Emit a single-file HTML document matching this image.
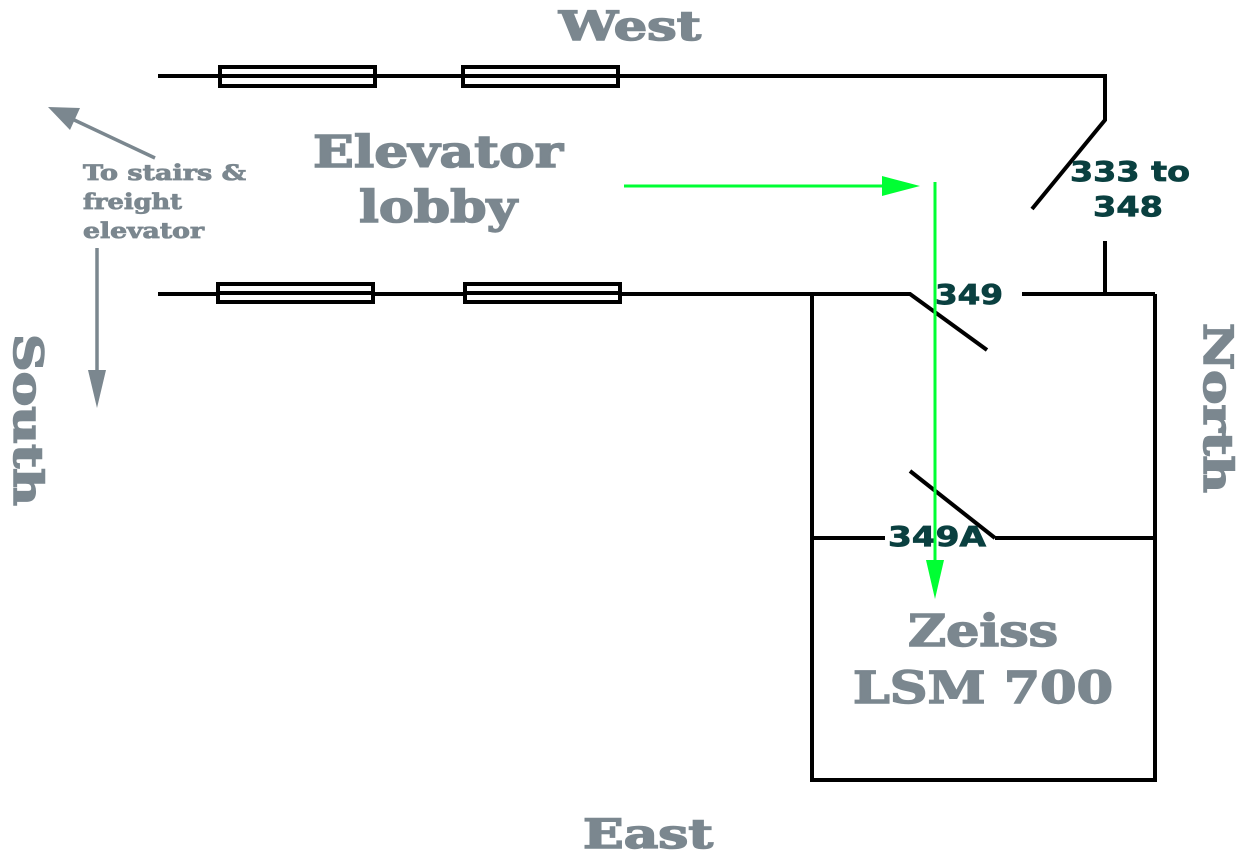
<!DOCTYPE html>
<html><head><meta charset="utf-8"><style>html,body{margin:0;padding:0;background:#fff}svg{display:block}</style></head>
<body>
<svg width="1248" height="862" viewBox="0 0 1248 862" xmlns="http://www.w3.org/2000/svg">
<g stroke="#000" stroke-width="4" fill="none">
<polyline points="158,76 1105,76 1105,120 1032,209"/>
<rect x="220" y="67" width="155" height="19" fill="#fff"/>
<rect x="463" y="67" width="155" height="19" fill="#fff"/>
<line x1="220" y1="76" x2="375" y2="76"/>
<line x1="463" y1="76" x2="618" y2="76"/>
<polyline points="158,294 910,294 987,350"/>
<rect x="218" y="284" width="155" height="18" fill="#fff"/>
<rect x="465" y="284" width="155" height="18" fill="#fff"/>
<line x1="218" y1="293" x2="373" y2="293"/>
<line x1="465" y1="293" x2="620" y2="293"/>
<line x1="1022" y1="294" x2="1155" y2="294"/>
<line x1="1105" y1="241" x2="1105" y2="294"/>
<polyline points="812,294 812,780 1155,780 1155,294"/>
<line x1="812" y1="538" x2="885" y2="538"/>
<line x1="995" y1="538" x2="1155" y2="538"/>
<line x1="910" y1="471" x2="995" y2="538"/>
</g>
<g fill="#0a4040" stroke="#0a4040" stroke-width="0.8" font-family="'DejaVu Sans','Liberation Sans',sans-serif" font-weight="bold" font-size="28">
<text x="1070" y="181" textLength="120" lengthAdjust="spacingAndGlyphs">333 to</text>
<text x="1093" y="216" textLength="70" lengthAdjust="spacingAndGlyphs">348</text>
<text x="935" y="304" textLength="68" lengthAdjust="spacingAndGlyphs">349</text>
<text x="888" y="546" textLength="98" lengthAdjust="spacingAndGlyphs">349A</text>
</g>
<g stroke="#00ff33" stroke-width="3" fill="#00ff33">
<line x1="624" y1="186" x2="885" y2="186"/>
<polygon points="882,176 920,186 882,196" stroke="none"/>
<line x1="935" y1="182" x2="935" y2="565"/>
<polygon points="926,560 944,560 935,599" stroke="none"/>
</g>
<g stroke="#7b878f" stroke-width="3.5" fill="#7b878f">
<line x1="155" y1="158" x2="70" y2="118"/>
<polygon points="48,107 80,108 70,130" stroke="none"/>
<line x1="97" y1="248" x2="97" y2="375"/>
<polygon points="88,370 106,370 97,408" stroke="none"/>
</g>
<g fill="#7b878f" stroke="#7b878f" stroke-width="1.5" font-family="'DejaVu Serif','Liberation Serif',serif" font-weight="bold">
<text x="630" y="40" font-size="40" text-anchor="middle" textLength="142" lengthAdjust="spacingAndGlyphs">West</text>
<text x="438" y="167" font-size="44" text-anchor="middle" textLength="250" lengthAdjust="spacingAndGlyphs">Elevator</text>
<text x="438" y="222" font-size="44" text-anchor="middle" textLength="158" lengthAdjust="spacingAndGlyphs">lobby</text>
<text x="83" y="180" font-size="21" stroke-width="0.8" textLength="163" lengthAdjust="spacingAndGlyphs">To stairs &amp;</text>
<text x="83" y="209" font-size="21" stroke-width="0.8" textLength="99" lengthAdjust="spacingAndGlyphs">freight</text>
<text x="83" y="238" font-size="21" stroke-width="0.8" textLength="121" lengthAdjust="spacingAndGlyphs">elevator</text>
<text x="983" y="646" font-size="44" text-anchor="middle" textLength="150" lengthAdjust="spacingAndGlyphs">Zeiss</text>
<text x="983" y="703" font-size="44" text-anchor="middle" textLength="260" lengthAdjust="spacingAndGlyphs">LSM 700</text>
<text x="648" y="848" font-size="40" text-anchor="middle" textLength="130" lengthAdjust="spacingAndGlyphs">East</text>
<text transform="translate(14,420) rotate(90)" font-size="40" text-anchor="middle" textLength="172" lengthAdjust="spacingAndGlyphs">South</text>
<text transform="translate(1204,408) rotate(90)" font-size="40" text-anchor="middle" textLength="170" lengthAdjust="spacingAndGlyphs">North</text>
</g>
</svg>
</body></html>
